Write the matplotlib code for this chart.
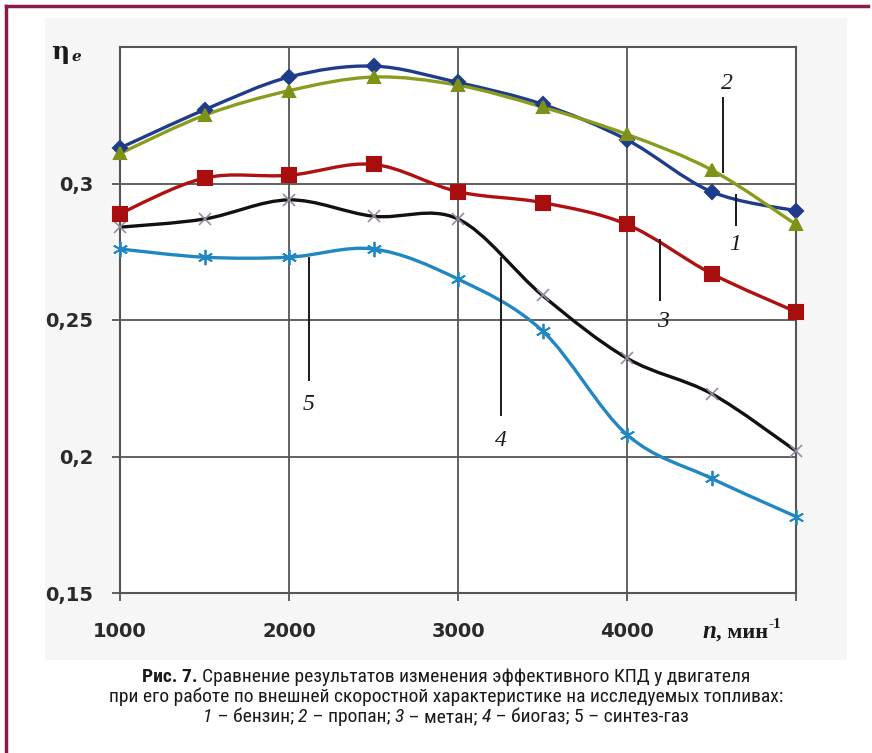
import numpy as np
import matplotlib.pyplot as plt
from matplotlib.path import Path
from matplotlib.patches import PathPatch, Rectangle
from matplotlib import font_manager


W, H = 872, 753

rpm = [1000, 1500, 2000, 2500, 3000, 3500, 4000, 4500, 5000]

petrol = [0.313, 0.327, 0.339, 0.343, 0.337, 0.329, 0.316, 0.297, 0.290]
propane = [0.311, 0.325, 0.334, 0.339, 0.336, 0.328, 0.318, 0.305, 0.285]
methane = [0.289, 0.302, 0.303, 0.307, 0.297, 0.293, 0.285, 0.267, 0.253]
biogas = [0.284, 0.287, 0.294, 0.288, 0.287, 0.259, 0.236, 0.223, 0.202]
syngas = [0.276, 0.273, 0.273, 0.276, 0.265, 0.246, 0.208, 0.192, 0.178]

y_ticks = [0.15, 0.2, 0.25, 0.3]
y_tick_labels = ["0,15", "0,2", "0,25", "0,3"]
x_ticks = [1000, 2000, 3000, 4000, 5000]
x_tick_labels = ["1000", "2000", "3000", "4000", ""]

caption_lines = [
    "Сравнение результатов изменения эффективного КПД у двигателя",
    "при его работе по внешней скоростной характеристике на исследуемых топливах:",
]


def px(x, y):
    # pixel position (from top-left) -> figure fraction
    return x / W, 1 - y / H


def pick_font(names):
    available = {f.name for f in font_manager.fontManager.ttflist}
    for n in names:
        if n in available:
            return n
    return "DejaVu Sans"


def smooth_path(x, y):
    pts = np.column_stack([x, y]).astype(float)
    verts = [pts[0]]
    codes = [Path.MOVETO]
    n = len(pts)
    for i in range(n - 1):
        p0 = pts[i - 1] if i > 0 else pts[i]
        p1 = pts[i]
        p2 = pts[i + 1]
        p3 = pts[i + 2] if i + 2 < n else pts[i + 1]
        c1 = p1 + (p2 - p0) / 6.0
        c2 = p2 - (p3 - p1) / 6.0
        verts += [c1, c2, p2]
        codes += [Path.CURVE4] * 3
    return Path(verts, codes)


def draw_series(ax, y, line_color, marker, mcolor, msize, mew=1.5, z=3):
    patch = PathPatch(smooth_path(rpm, y), facecolor="none", edgecolor=line_color,
                      lw=2.4, zorder=z, capstyle="round", joinstyle="round")
    ax.add_patch(patch)
    ax.plot(rpm, y, linestyle="none", marker=marker, markersize=msize,
            color=mcolor, markeredgecolor=mcolor, markeredgewidth=mew,
            zorder=z + 0.5, clip_on=False)


def chain(fig, renderer, pieces, x, y, align="left"):
    # place text pieces one after another on a line, pixel coords
    objs = []
    total = 0
    for s, kw in pieces:
        kw = dict(kw)
        dy = kw.pop("dy", 0)
        o = fig.text(0, 0, s, va="center", ha="left", **kw)
        w = o.get_window_extent(renderer).width
        objs.append((o, w, dy))
        total += w
    if align == "center":
        x = x - total / 2
    for o, w, dy in objs:
        o.set_position(px(x, y + dy))
        x += w


def main():
    fig = plt.figure(figsize=(W / 100, H / 100), dpi=100)
    fig.patch.set_facecolor("white")

    # light panel behind the chart
    x0, y0 = px(45, 660)
    x1, y1 = px(847, 18)
    fig.patches.append(Rectangle((x0, y0), x1 - x0, y1 - y0, transform=fig.transFigure,
                                 facecolor="#f6f6f6", edgecolor="none", zorder=-5))

    # maroon frame, left and top
    frame = "#8a1a4c"
    fig.add_artist(plt.Line2D([6 / W, 6 / W], [0, 1 - 6 / H], transform=fig.transFigure,
                              color=frame, lw=2.5))
    fig.add_artist(plt.Line2D([6 / W, 868 / W], [1 - 6 / H, 1 - 6 / H],
                              transform=fig.transFigure, color=frame, lw=2.5))

    left, top = px(120, 47)
    right, bottom = px(796, 593)
    ax = fig.add_axes([left, bottom, right - left, top - bottom])
    ax.set_zorder(2)
    ax.set_facecolor("white")
    ax.set_xlim(1000, 5000)
    ax.set_ylim(0.15, 0.35)

    grid_c = "#555555"
    ax.grid(True, color=grid_c, lw=1.3, zorder=1)
    for s in ax.spines.values():
        s.set_color(grid_c)
        s.set_linewidth(1.5)

    ax.set_xticks(x_ticks)
    ax.set_xticklabels(x_tick_labels)
    ax.set_yticks(y_ticks)
    ax.set_yticklabels(y_tick_labels)
    ax.tick_params(axis="both", direction="out", length=6, width=1.3, color=grid_c,
                   labelsize=14, labelcolor="#2a2a2a")
    ax.tick_params(axis="x", pad=15)
    ax.tick_params(axis="y", pad=13)
    for lab in ax.get_xticklabels() + ax.get_yticklabels():
        lab.set_fontweight("bold")

    draw_series(ax, syngas, "#2187c2", (6, 2, 0), "#2187c2", 11, mew=1.3, z=3)
    draw_series(ax, biogas, "#111111", "x", "#9a8aa0", 9, mew=1.2, z=3.2)
    draw_series(ax, methane, "#b01010", "s", "#a80e0e", 10, z=3.4)
    draw_series(ax, petrol, "#1f3c8a", "D", "#1f3c8a", 7, z=3.6)
    draw_series(ax, propane, "#8a9c1e", "^", "#7f9218", 9, z=3.8)

    # leader lines and curve numbers
    num_font = dict(fontfamily="Liberation Serif", fontstyle="italic", fontsize=17,
                    color="#1a1a1a", ha="center", va="center", zorder=6)
    leaders = [
        ("2", (4568, 0.3313), (4568, 0.3042), (4592, 0.3365)),
        ("1", (4645, 0.2958), (4645, 0.2848), (4639, 0.2775)),
        ("3", (4195, 0.2793), (4195, 0.2573), (4213, 0.2493)),
        ("4", (3254, 0.2727), (3254, 0.2152), (3254, 0.2060)),
        ("5", (2118, 0.2727), (2118, 0.2280), (2118, 0.2189)),
    ]
    for txt, a, b, t in leaders:
        ax.plot([a[0], b[0]], [a[1], b[1]], color="#1a1a1a", lw=1.4, zorder=5)
        ax.text(t[0], t[1], txt, **num_font)

    renderer = fig.canvas.get_renderer()

    # axis captions
    fig.text(*px(51, 52), "η", fontfamily="DejaVu Serif", fontweight="bold",
             fontsize=18, color="#1a1a1a", va="center", ha="left")
    fig.text(*px(71, 57), "e", fontfamily="DejaVu Serif", fontweight="bold",
             fontstyle="italic", fontsize=11, color="#1a1a1a", va="center", ha="left")
    serif = dict(fontfamily="Liberation Serif", fontweight="bold", color="#1a1a1a")
    chain(fig, renderer, [
        ("n", dict(serif, fontstyle="italic", fontsize=18)),
        (", мин", dict(serif, fontsize=16, dy=1)),
        ("-1", dict(serif, fontsize=11, dy=-8)),
    ], 702, 632)

    # figure caption
    cap_font = pick_font(["Liberation Sans Narrow", "Roboto Condensed", "Open Sans Condensed",
                          "DejaVu Sans Condensed", "Roboto"])
    cap_kw = dict(fontfamily=cap_font, fontsize=14, color="#1a1a1a")

    cx = 446
    chain(fig, renderer, [
        ("Рис. 7. ", dict(cap_kw, fontweight="bold")),
        (caption_lines[0], cap_kw),
    ], cx, 677, align="center")
    fig.text(*px(cx, 697), caption_lines[1], ha="center", va="center", **cap_kw)

    it = dict(cap_kw, fontstyle="italic")
    chain(fig, renderer, [
        ("1", it), (" – бензин; ", cap_kw), ("2", it), (" – пропан; ", cap_kw),
        ("3", it), (" – метан; ", cap_kw), ("4", it), (" – биогаз; 5 – синтез-газ", cap_kw),
    ], cx, 717, align="center")

    fig.savefig("out.png", dpi=100)
    plt.close(fig)


if __name__ == "__main__":
    main()
